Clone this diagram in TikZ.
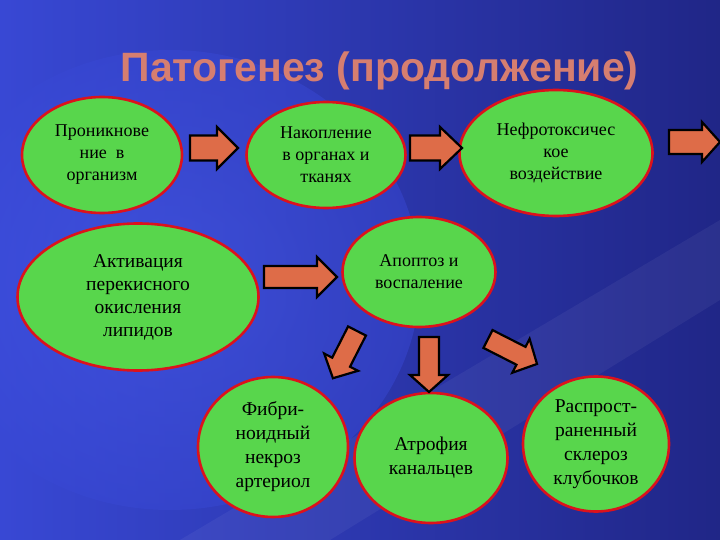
\documentclass[tikz,border=0pt]{standalone}
\usepackage{fontspec}
\setmainfont{Liberation Serif}
\newfontfamily\titlefont{Liberation Sans}
\usetikzlibrary{shapes.geometric}
\definecolor{bgL}{RGB}{56,72,212}
\definecolor{bgR}{RGB}{32,38,135}
\definecolor{glow}{RGB}{72,92,238}
\definecolor{ellfill}{RGB}{88,214,76}
\definecolor{ellline}{RGB}{220,18,28}
\definecolor{arrfill}{RGB}{222,108,72}
\definecolor{titlecol}{RGB}{214,126,112}
\tikzset{
  ell/.style={ellipse, draw=ellline, line width=2.6pt, fill=ellfill, align=center, inner sep=0pt, text=black},
  topfont/.style={font=\fontsize{18}{22}\selectfont},
  midfont/.style={font=\fontsize{19.5}{23}\selectfont},
  botfont/.style={font=\fontsize{19.5}{24}\selectfont},
  barrowstyle/.style={draw=black, fill=arrfill, line width=2.2pt, line join=miter},
}
% #1 x, #2 y of tail centre, #3 angle, #4 length, #5 shaft half width, #6 head half width, #7 head length
\newcommand\blockarrow[7]{%
  \begin{scope}[shift={(#1,#2)}, rotate=#3]
    \draw[barrowstyle] (0,-#5) -- ({#4-#7},-#5) -- ({#4-#7},-#6) -- (#4,0) -- ({#4-#7},#6) -- ({#4-#7},#5) -- (0,#5) -- cycle;
  \end{scope}}
\begin{document}
\begin{tikzpicture}[x=1pt,y=-1pt]
\useasboundingbox (0,0) rectangle (720,540);
% background
\shade[left color=bgL, right color=bgR] (0,0) rectangle (720,540);
\shade[inner color=glow, outer color=bgL, opacity=0.5] (170,280) ellipse (250 and 230);
\fill[white, opacity=0.05] (180,540) -- (330,540) -- (720,300) -- (720,220) -- cycle;
% title
\node[font=\titlefont\bfseries\fontsize{41}{46}\selectfont, text=titlecol, anchor=base] (title) at (379.5,82) {Патогенез (продолжение)};
% ellipses
\node[ell, topfont, minimum width=160, minimum height=116] (e1) at (102,155) {Проникнове\\ние\enspace в\\организм};
\node[ell, topfont, minimum width=159, minimum height=106] (e2) at (326,155) {Накопление\\в органах и\\тканях};
\node[ell, topfont, minimum width=193, minimum height=126] (e3) at (556,153) {Нефротоксичес\\кое\\воздействие};
\node[ell, midfont, minimum width=241, minimum height=147] (e4) at (138,297) {Активация\\перекисного\\окисления\\липидов};
\node[ell, topfont, minimum width=153, minimum height=110] (e5) at (419,272) {Апоптоз и\\воспаление};
\node[ell, botfont, minimum width=150, minimum height=140] (e6) at (273,447) {Фибри-\\ноидный\\некроз\\артериол};
\node[ell, botfont, minimum width=153, minimum height=130] (e7) at (431,458) {Атрофия\\канальцев};
\node[ell, botfont, minimum width=146, minimum height=135] (e8) at (596,444) {Распрост-\\раненный\\склероз\\клубочков};
% block arrows
\blockarrow{190}{148}{0}{48}{12.5}{21}{21}
\blockarrow{410}{148}{0}{52}{12.5}{21}{22}
\blockarrow{669}{142}{0}{51}{12}{20}{18}
\blockarrow{264}{277}{0}{73}{11}{20}{20}
\blockarrow{357}{331}{-117}{53}{10}{19}{18}
\blockarrow{429}{337}{-90}{55}{10}{19}{17}
\blockarrow{488}{339}{-27}{55}{10}{19}{18}
\end{tikzpicture}
\end{document}
